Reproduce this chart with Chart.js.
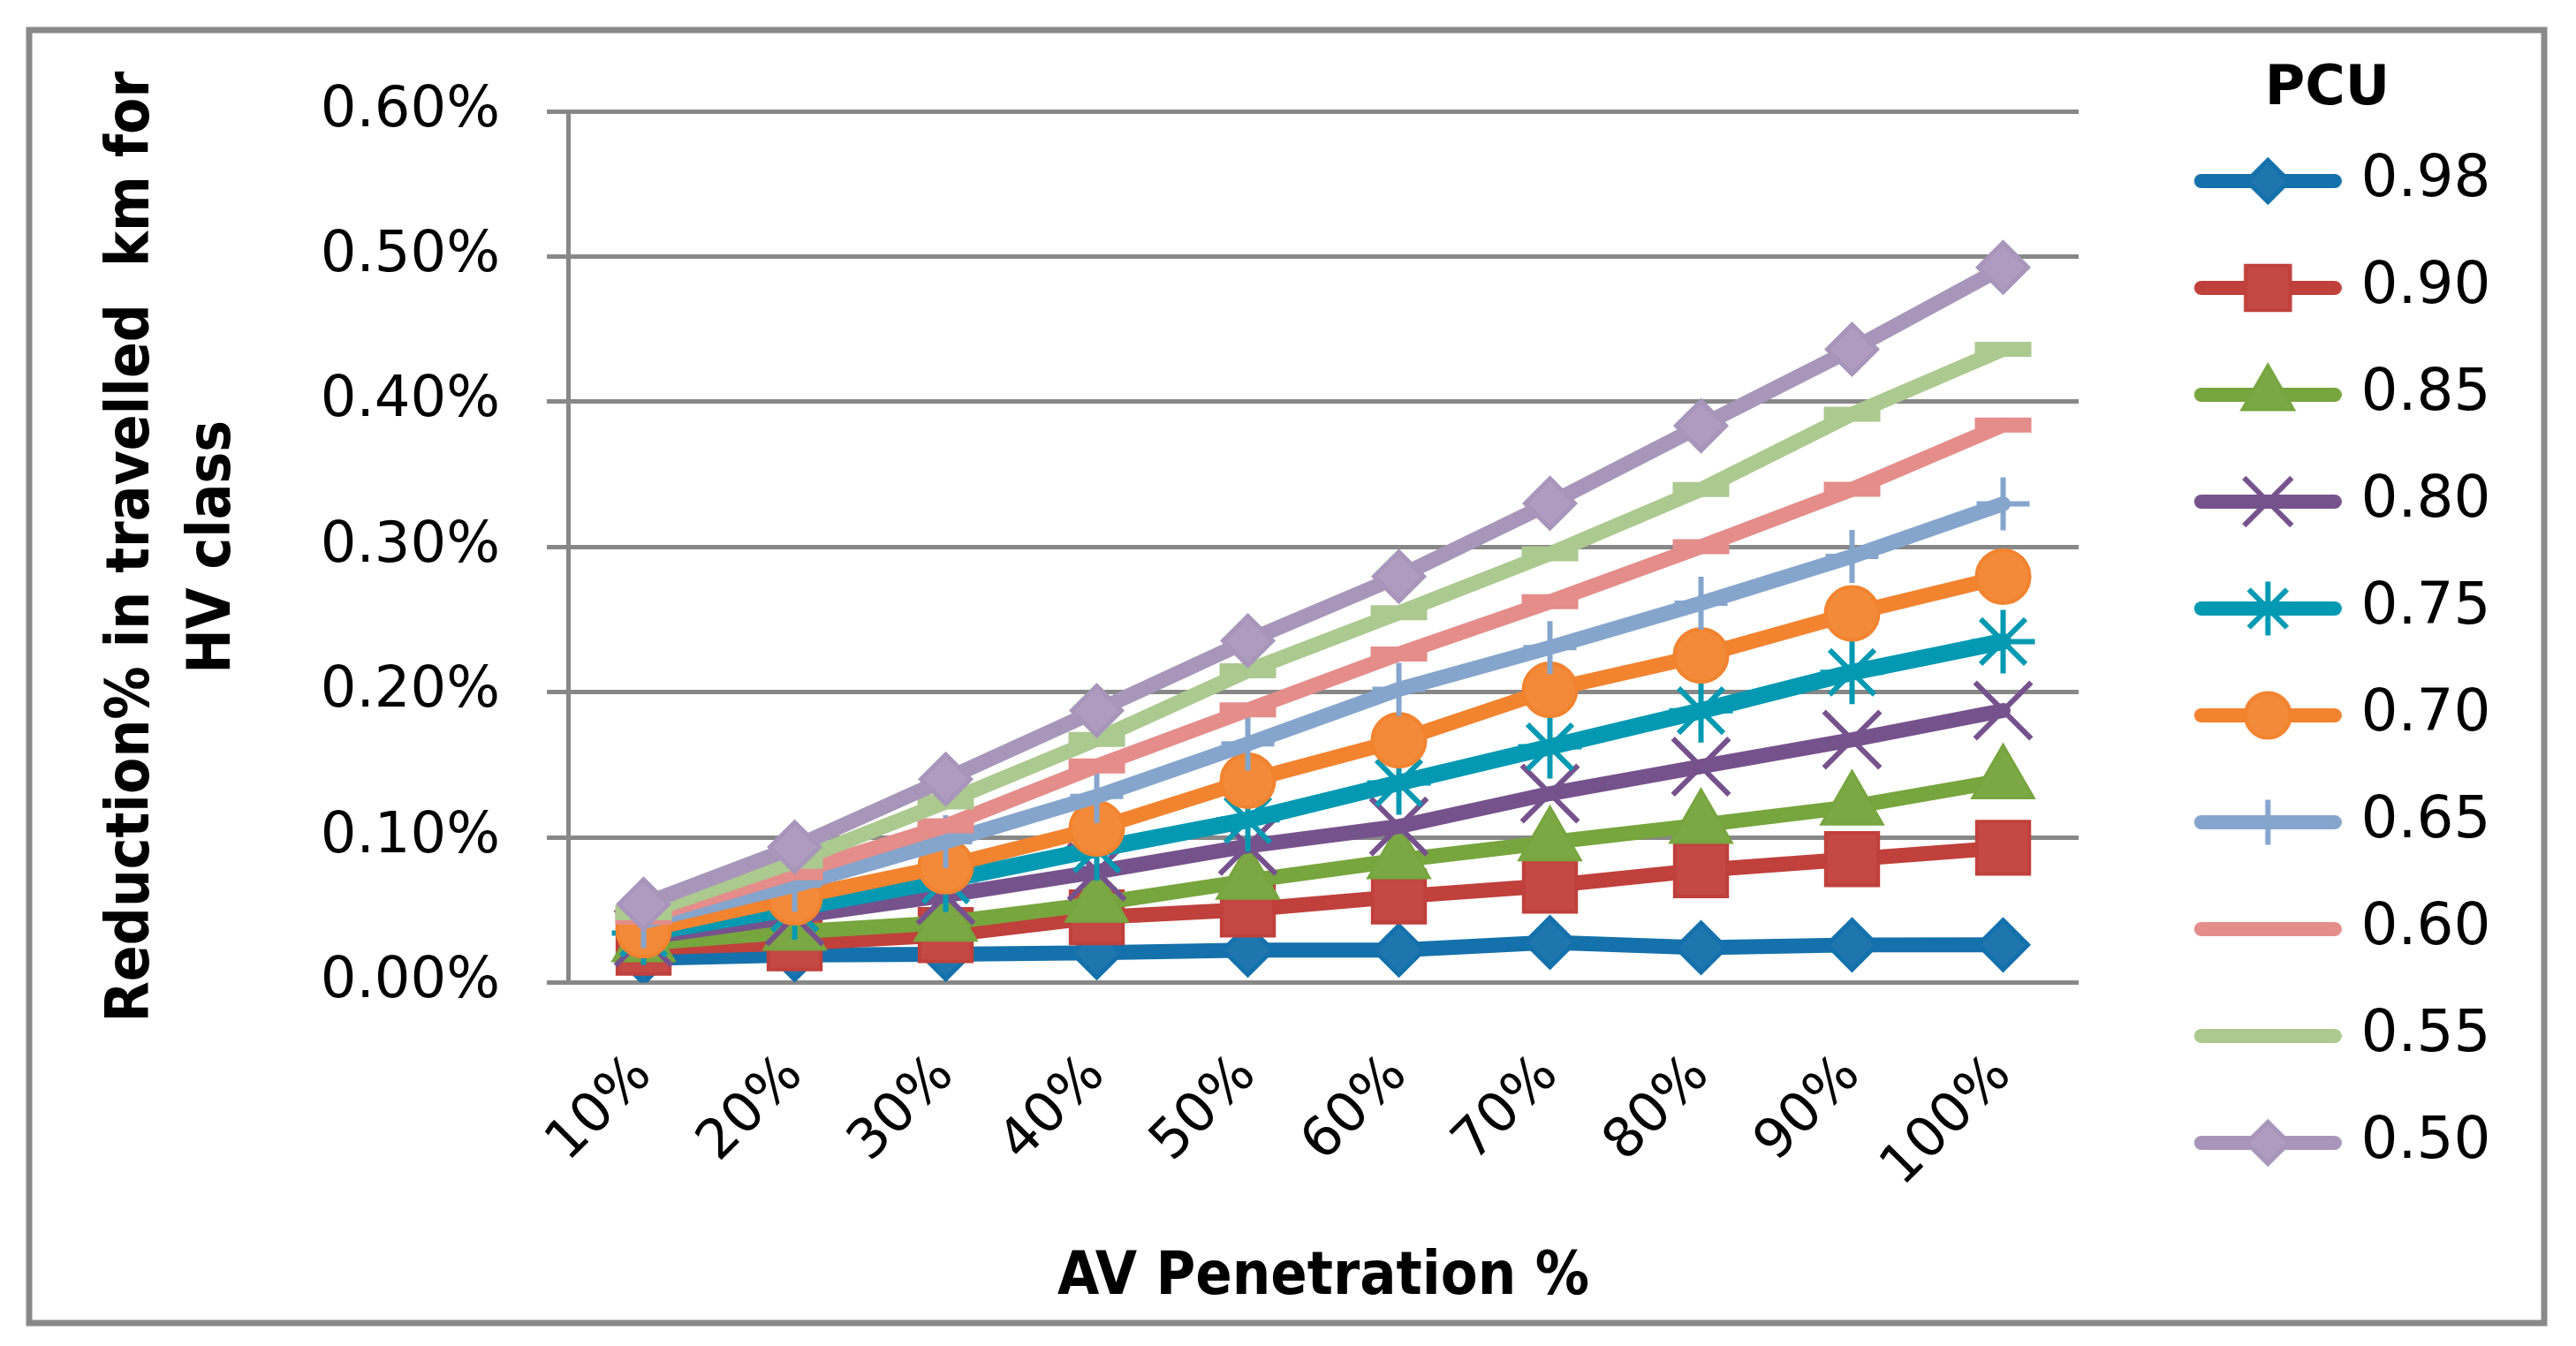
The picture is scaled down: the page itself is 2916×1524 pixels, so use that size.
<!DOCTYPE html>
<html>
<head>
<meta charset="utf-8">
<title>Reduction in travelled km for HV class</title>
<script src="https://cdn.jsdelivr.net/npm/chart.js@4.4.1/dist/chart.umd.min.js"></script>
<style>
  html, body { margin: 0; padding: 0; background: #fff; }
  canvas { display: block; }
</style>
</head>
<body>
<canvas id="pcuChart" width="2916" height="1524"></canvas>
<script>
// AV penetration categories (x axis)
var penetration = ['10%', '20%', '30%', '40%', '50%', '60%', '70%', '80%', '90%', '100%'];

// PCU series names (legend)
var pcuLabels = ['0.98', '0.90', '0.85', '0.80', '0.75', '0.70', '0.65', '0.60', '0.55', '0.50'];

// Reduction % in travelled km, one array per PCU value
var pcu098 = [0.0165, 0.019, 0.0195, 0.0205, 0.0223, 0.0223, 0.0277, 0.0240, 0.0259, 0.0259];
var pcu090 = [0.024, 0.027, 0.0327, 0.0449, 0.0503, 0.0592, 0.0667, 0.0774, 0.0850, 0.0928];
var pcu085 = [0.027, 0.035, 0.0412, 0.0543, 0.0700, 0.0842, 0.0965, 0.1085, 0.1211, 0.1392];
var pcu080 = [0.031, 0.0455, 0.060, 0.0763, 0.0940, 0.1075, 0.1301, 0.1487, 0.1672, 0.1873];
var pcu075 = [0.034, 0.0513, 0.0706, 0.0919, 0.1120, 0.1375, 0.1623, 0.1872, 0.2136, 0.2348];
var pcu070 = [0.036, 0.0586, 0.0801, 0.1061, 0.1390, 0.1668, 0.2016, 0.2252, 0.2542, 0.2795];
var pcu065 = [0.042, 0.0670, 0.0970, 0.1282, 0.1643, 0.2019, 0.2307, 0.2612, 0.2935, 0.3296];
var pcu060 = [0.045, 0.0756, 0.1079, 0.1491, 0.1877, 0.2262, 0.2622, 0.3002, 0.3396, 0.3839];
var pcu055 = [0.048, 0.0834, 0.1243, 0.1674, 0.2147, 0.2546, 0.2953, 0.3395, 0.3914, 0.4361];
var pcu050 = [0.054, 0.0933, 0.1400, 0.1873, 0.2354, 0.2796, 0.3300, 0.3834, 0.4361, 0.4925];

// y axis tick values (in %)
var yTickValues = [0, 0.1, 0.2, 0.3, 0.4, 0.5, 0.6];

var seriesValues = [pcu098, pcu090, pcu085, pcu080, pcu075, pcu070, pcu065, pcu060, pcu055, pcu050];

// styles
var lineColors  = ['#1471ab', '#c0403b', '#77a53e', '#76528d', '#0399b2', '#f2832f', '#85a5cd', '#e48d8a', '#acc98f', '#a896ba'];
var markerFills = ['#1f76ae', '#c44843', '#7ba744', '#76528d', '#0399b2', '#f28a3a', '#85a5cd', '#e48d8a', '#acc98f', '#ae9bc0'];
var markerStyles = ['rectRot', 'rect', 'triangle', 'crossRot', 'star', 'circle', 'cross', 'line', 'line', 'rectRot'];
var markerRadius = [28, 42, 40, 45, 36, 30, 30, 32, 32, 28];
var markerBorder = [5, 4, 3, 6, 6, 4, 6, 17, 17, 5];
var lineWidths   = [17, 17, 17, 17, 19, 17, 17, 17, 17, 17];

var gridGray = '#878787';
var titleFamily = "'DejaVu Sans Condensed', 'Liberation Sans Narrow', 'DejaVu Sans', sans-serif";
var tickFamily = "'DejaVu Sans', Verdana, sans-serif";

// small line + marker picture for each legend entry
function legendIcon(i) {
    var c = document.createElement('canvas');
    c.width = 254;
    c.height = 80;
    var g = c.getContext('2d');
    g.lineCap = 'round';
    g.strokeStyle = lineColors[i];
    g.lineWidth = 16;
    g.beginPath();
    g.moveTo(95, 40);
    g.lineTo(246, 40);
    g.stroke();
    if (markerStyles[i] !== 'line') {
        g.lineCap = 'butt';
        g.fillStyle = markerFills[i];
        g.strokeStyle = lineColors[i];
        g.lineWidth = markerBorder[i];
        Chart.helpers.drawPoint(g, {
            pointStyle: markerStyles[i],
            rotation: 0,
            radius: markerRadius[i] * 0.85,
            borderWidth: markerBorder[i]
        }, 170.5, 40);
    }
    return c;
}

var legendIcons = pcuLabels.map(function (l, i) { return legendIcon(i); });

var datasets = pcuLabels.map(function (label, i) {
    return {
        label: label,
        data: seriesValues[i],
        order: pcuLabels.length - 1 - i,   // last series drawn on top, like the original
        borderColor: lineColors[i],
        borderWidth: lineWidths[i],
        borderJoinStyle: 'round',
        borderCapStyle: 'round',
        tension: 0,
        fill: false,
        pointStyle: markerStyles[i],
        pointRadius: markerRadius[i],
        pointBorderWidth: markerBorder[i],
        pointBackgroundColor: markerFills[i],
        pointBorderColor: lineColors[i]
    };
});

// white page and the grey outer frame
var framePlugin = {
    id: 'frame',
    beforeDraw: function (chart) {
        var c = chart.ctx;
        c.save();
        c.fillStyle = '#fff';
        c.fillRect(0, 0, chart.width, chart.height);
        c.strokeStyle = '#898989';
        c.lineWidth = 7;
        c.strokeRect(33, 34, 2847, 1464);
        c.restore();
    }
};

// legend keeps a fixed strip on the right
var legendStrip = {
    id: 'legendStrip',
    afterInit: function (chart) {
        var legend = chart.legend;
        var fit = legend.fit;
        legend.fit = function () {
            fit.call(this);
            this.width = 563;
        };
    }
};

var ctx = document.getElementById('pcuChart').getContext('2d');

var pcuChart = new Chart(ctx, {
    type: 'line',
    data: {
        labels: penetration,
        datasets: datasets
    },
    options: {
        responsive: false,
        animation: false,
        devicePixelRatio: 1,
        events: [],
        layout: {
            padding: { left: 50, right: 0, top: 0, bottom: 36 }
        },
        plugins: {
            title: {
                display: true,
                text: '',
                font: { size: 10, lineHeight: 1 },
                padding: { top: 0, bottom: 116 }
            },
            tooltip: { enabled: false },
            legend: {
                position: 'right',
                align: 'start',
                title: {
                    display: true,
                    text: 'PCU',
                    color: '#000',
                    font: { family: tickFamily, size: 62, weight: 'bold', lineHeight: 1 },
                    padding: { top: 71, bottom: -16 }
                },
                labels: {
                    usePointStyle: true,
                    pointStyleWidth: 231.5,
                    padding: 55,
                    color: '#000',
                    font: { family: tickFamily, size: 66 },
                    generateLabels: function (chart) {
                        return chart.data.datasets.map(function (ds, i) {
                            return {
                                text: ds.label,
                                pointStyle: legendIcons[i],
                                fillStyle: 'rgba(0,0,0,0)',
                                strokeStyle: 'rgba(0,0,0,0)',
                                lineWidth: 0,
                                hidden: false,
                                fontColor: '#000',
                                datasetIndex: i
                            };
                        });
                    }
                }
            }
        },
        scales: {
            x: {
                offset: true,
                grid: { display: false, drawTicks: false },
                border: { display: false },
                ticks: {
                    autoSkip: false,
                    minRotation: 45,
                    maxRotation: 45,
                    padding: 69,
                    color: '#000',
                    font: { family: tickFamily, size: 62 }
                },
                title: {
                    display: true,
                    text: 'AV Penetration %',
                    color: '#000',
                    font: { family: titleFamily, size: 68, weight: 'bold', lineHeight: 1.2 },
                    padding: { top: -22, bottom: 0 }
                }
            },
            y: {
                min: yTickValues[0],
                max: yTickValues[yTickValues.length - 1],
                ticks: {
                    stepSize: yTickValues[1] - yTickValues[0],
                    padding: 53,
                    color: '#000',
                    font: { family: tickFamily, size: 64 },
                    callback: function (v) { return v.toFixed(2) + '%'; }
                },
                grid: { color: gridGray, lineWidth: 5, tickLength: 24, drawTicks: true },
                border: { display: true, color: gridGray, width: 5 },
                title: {
                    display: true,
                    text: ['Reduction% in travelled  km for', 'HV class'],
                    color: '#000',
                    font: { family: titleFamily, size: 67, weight: 'bold', lineHeight: 1.36 },
                    padding: { top: 55.5, bottom: 22 }
                }
            }
        }
    },
    plugins: [framePlugin, legendStrip]
});
</script>
</body>
</html>
